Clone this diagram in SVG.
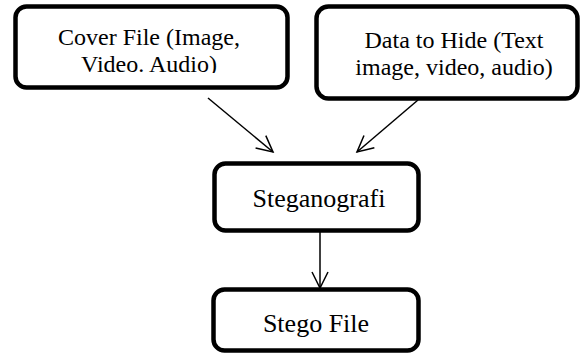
<svg xmlns="http://www.w3.org/2000/svg" width="582" height="356" viewBox="0 0 582 356">
<style>
.box{fill:#fff;stroke:#000;stroke-width:4.5}
.t{font-family:"Liberation Serif","Times New Roman",serif;font-size:24px;fill:#000;text-anchor:middle}
.t2{font-family:"Liberation Serif","Times New Roman",serif;font-size:26px;fill:#000;text-anchor:middle}
.c{stroke:#000;stroke-width:1.5;fill:none}
</style>
<defs>
<marker id="ah" viewBox="0 0 20 20" refX="18" refY="10" markerWidth="20" markerHeight="20" markerUnits="userSpaceOnUse" orient="auto">
<path d="M2,2 L18,10 L2,18" fill="none" stroke="#000" stroke-width="1.5"/>
</marker>
<clipPath id="cl1"><rect x="14" y="5" width="276" height="68"/></clipPath>
</defs>
<g id="cover">
<rect class="box" x="15.5" y="6.5" width="272" height="81" rx="11"/>
<g clip-path="url(#cl1)">
<text class="t" x="149" y="45">Cover File (Image,</text>
<text class="t" x="149" y="72">Video. Audio)</text>
</g>
</g>
<g id="data">
<rect class="box" x="316.5" y="6.5" width="261" height="92" rx="12"/>
<text class="t" x="454" y="48">Data to Hide (Text</text>
<text class="t" x="454" y="75">image, video, audio)</text>
</g>
<g id="stegano">
<rect class="box" x="214.5" y="163.5" width="204" height="67" rx="11"/>
<text class="t2" x="319" y="207">Steganografi</text>
</g>
<g id="stego">
<rect class="box" x="213.5" y="289.5" width="205" height="61" rx="11"/>
<text class="t2" x="316" y="332">Stego File</text>
</g>
<g id="connectors">
<line class="c" x1="208" y1="98" x2="273" y2="152" marker-end="url(#ah)"/>
<line class="c" x1="418" y1="100" x2="357" y2="152" marker-end="url(#ah)"/>
<line class="c" x1="320" y1="232" x2="320" y2="288" marker-end="url(#ah)"/>
</g>
</svg>
